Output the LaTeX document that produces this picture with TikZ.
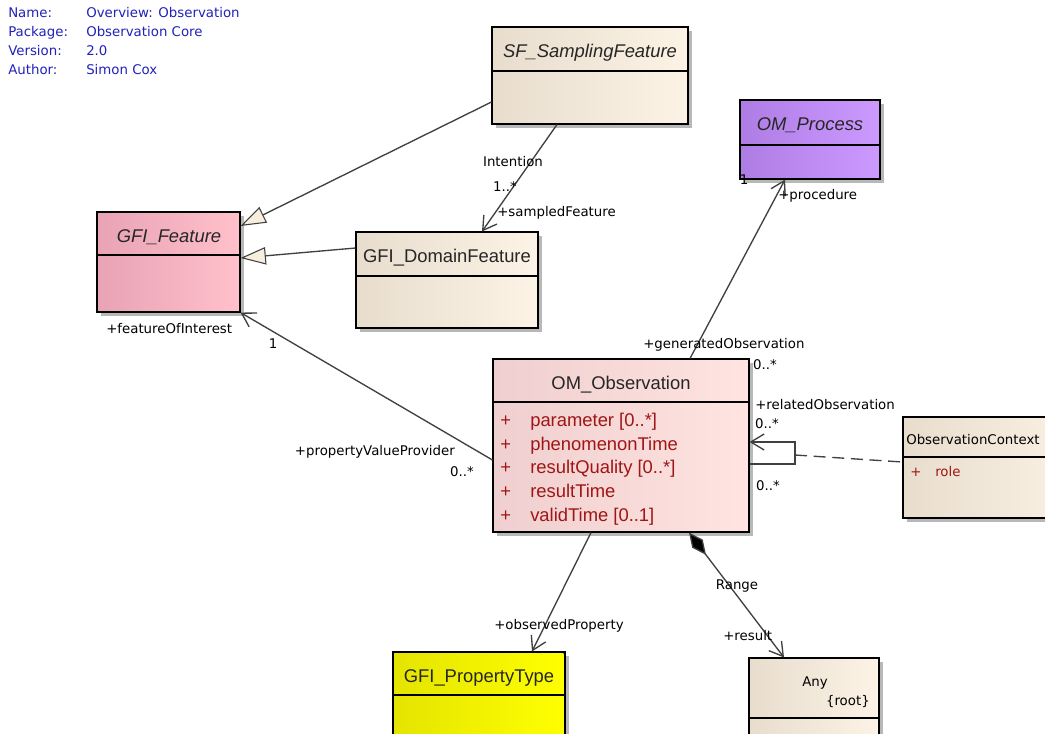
\documentclass[tikz,border=0pt]{standalone}
\usepackage{fontspec}
\usetikzlibrary{arrows.meta,shadows,fit,calc}
\newfontfamily\lblfont{DejaVu Sans}
\newfontfamily\clsfont{Liberation Sans}

\definecolor{creamL}{HTML}{E8DDCD}
\definecolor{creamR}{HTML}{FCF3E6}
\definecolor{pinkL}{HTML}{E8A3B5}
\definecolor{pinkR}{HTML}{FFC0CB}
\definecolor{purpL}{HTML}{AE7DE4}
\definecolor{purpR}{HTML}{CC99FF}
\definecolor{obsL}{HTML}{EFCFCF}
\definecolor{obsR}{HTML}{FFE4E1}
\definecolor{yelL}{HTML}{E4E400}
\definecolor{yelR}{HTML}{FFFF00}
\definecolor{hdr}{HTML}{2222BB}
\definecolor{attr}{HTML}{A01515}
\definecolor{wire}{HTML}{404040}
\definecolor{trifill}{HTML}{F7EEDD}

\tikzset{
  box/.style={draw=black, line width=0.8pt, inner sep=0pt,
    drop shadow={shadow xshift=3pt, shadow yshift=-3pt, fill=black!28, opacity=1}},
  cream/.style={left color=creamL, right color=creamR},
  divline/.style={draw=black, line width=0.8pt},
  lab/.style={font=\lblfont\fontsize{10}{12}\selectfont, inner sep=0pt,
    text height=7.3pt, text depth=0pt, text=black},
  hd/.style={lab, text=hdr},
  cname/.style={font=\clsfont\fontsize{13.8}{16}\selectfont, inner sep=0pt,
    text height=9.9pt, text depth=0pt, text=black!85},
  aname/.style={cname, text=attr, anchor=west},
  wireline/.style={draw=wire, line width=1pt},
  navarrow/.style={wireline, -{Straight Barb[length=10pt,width=12pt,line width=1pt]}},
  genarrow/.style={wireline, -{Triangle[length=19pt,width=13pt,fill=trifill,line width=0.8pt]}},
}

\newcommand\umlbox[7]{%
  \node[box,#7,fit={(#2,#3)(#4,#5)}] (#1) {};
  \draw[divline] (#1.west |- 0,#6) -- (#1.east |- 0,#6);
}

\begin{document}
\begin{tikzpicture}[x=0.75pt,y=-0.75pt]
\useasboundingbox (0,0) rectangle (1045,733);
\clip (0,0) rectangle (1045,733);
\fill[white] (0,0) rectangle (1045,733);

% diagram header
\node[hd,anchor=west] (hn) at (8,13) {Name:};
\node[hd,anchor=west] (hp) at (8,32) {Package:};
\node[hd,anchor=west] (hv) at (8,51) {Version:};
\node[hd,anchor=west] (ha) at (8,70) {Author:};
\node[hd,anchor=west] (hn2) at (86,13) {Overview: Observation};
\node[hd,anchor=west] (hp2) at (86,32) {Observation Core};
\node[hd,anchor=west] (hv2) at (86,51) {2.0};
\node[hd,anchor=west] (ha2) at (86,70) {Simon Cox};

% classes
\umlbox{sf}{492}{27}{688}{124}{71}{cream}
\node[cname,font=\clsfont\itshape\fontsize{13.8}{16}\selectfont] (sfn) at (590,51) {SF\_SamplingFeature};

\umlbox{proc}{740}{100}{880}{179}{145}{left color=purpL, right color=purpR}
\node[cname,font=\clsfont\itshape\fontsize{13.8}{16}\selectfont] (procn) at (810,124) {OM\_Process};

\umlbox{feat}{97}{212}{240}{312}{255}{left color=pinkL, right color=pinkR}
\node[cname,font=\clsfont\itshape\fontsize{13.8}{16}\selectfont] (featn) at (169,236) {GFI\_Feature};

\umlbox{dom}{356}{232}{538}{328}{276}{cream}
\node[cname] (domn) at (447,256) {GFI\_DomainFeature};

\umlbox{obs}{493}{359}{749}{532}{402}{left color=obsL, right color=obsR}
\node[cname] (obsn) at (621,383) {OM\_Observation};
\foreach \yy/\txt [count=\i] in {420/{parameter [0..*]}, 444/{phenomenonTime},
    467/{resultQuality [0..*]}, 491/{resultTime}, 515/{validTime [0..1]}} {
  \node[aname] (ap\i) at (500,\yy) {+};
  \node[aname] (an\i) at (530,\yy) {\txt};
}

\umlbox{ctx}{903}{417}{1090}{518}{457}{cream}
\node[lab,anchor=west] (ctxn) at (906,440) {ObservationContext};
\node[lab,anchor=west,text=attr] (ctxp) at (910,472) {+};
\node[lab,anchor=west,text=attr] (ctxr) at (935,472) {role};

\umlbox{ptype}{393}{652}{565}{760}{695}{left color=yelL, right color=yelR}
\node[cname] (ptypen) at (479,676) {GFI\_PropertyType};
\fill[black] (ptype.north east) -- ++(-4,0) -- ++(4,4) -- cycle;

\umlbox{any}{749}{658}{879}{760}{718}{cream}
\node[lab] (anyn) at (815,682) {Any};
\node[lab,anchor=east] (anyr) at (870,701) {\{root\}};

% generalisations
\draw[genarrow] (sf.west |- 0,102) -- (feat.east |- 0,226);
\draw[genarrow] (dom.west |- 0,248) -- (feat.east |- 0,258);

% associations
\draw[navarrow] (sf.south -| 557,0) -- (dom.north -| 482,0);
\node[lab] (l1) at (513,162) {Intention};
\node[lab] (l2) at (505,187) {1..*};
\node[lab,anchor=west] (l3) at (497,212) {+sampledFeature};

\draw[navarrow] (obs.north -| 690,0) -- (proc.south -| 785,0);
\node[lab] (l4) at (744,180) {1};
\node[lab,anchor=west] (l5) at (778,195) {+procedure};
\node[lab,anchor=west] (l6) at (643,344) {+generatedObservation};
\node[lab] (l7) at (765,365) {0..*};

\draw[navarrow] (obs.west |- 0,460) -- (feat.south east);
\node[lab,anchor=west] (l8) at (106,329) {+featureOfInterest};
\node[lab] (l9) at (273,344) {1};
\node[lab,anchor=east] (l10) at (455,451) {+propertyValueProvider};
\node[lab] (l11) at (462,472) {0..*};

% reflexive association with its association class
\coordinate (selfA) at (795,464);
\coordinate (selfB) at (795,442);
\draw[navarrow] (obs.east |- selfA) -- (selfA) -- (selfB) -- (obs.east |- selfB);
\draw[wireline,dash pattern=on 9pt off 5pt] (795,455) -- (ctx.west |- 0,462);
\node[lab,anchor=west] (l12) at (755,405) {+relatedObservation};
\node[lab] (l13) at (767,424) {0..*};
\node[lab] (l14) at (768,486) {0..*};

\draw[navarrow] (obs.south -| 591,0) -- (ptype.north -| 532,0);
\node[lab,anchor=west] (l15) at (494,625) {+observedProperty};

\draw[wireline, {Diamond[length=21pt,width=10pt,fill=black]}-{Straight Barb[length=10pt,width=12pt,line width=1pt]}]
  (obs.south -| 689,0) -- (any.north -| 784,0);
\node[lab] (l16) at (737,585) {Range};
\node[lab,anchor=west] (l17) at (723,636) {+result};
\end{tikzpicture}
\end{document}
